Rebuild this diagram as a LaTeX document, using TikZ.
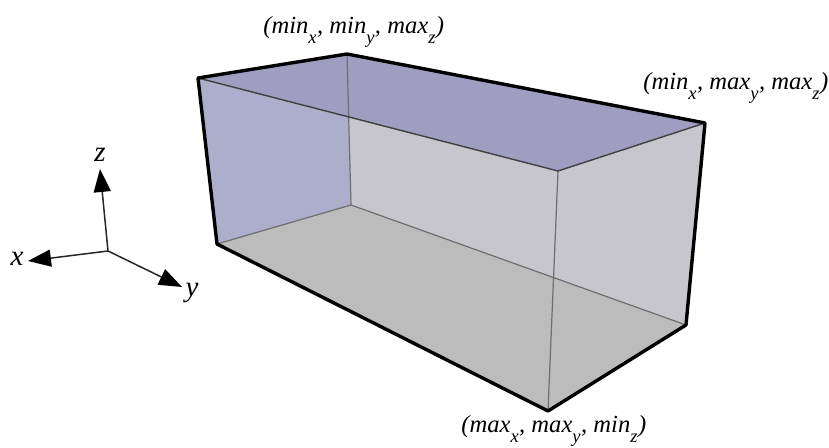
\documentclass[tikz,border=0pt]{standalone}
\usepackage{fontspec}
\usepackage{xcolor}
\setmainfont{Liberation Serif}
\usetikzlibrary{arrows.meta}
\definecolor{wallblue}{RGB}{173,174,204}
\definecolor{topblue}{RGB}{159,158,192}
\definecolor{wallgray}{RGB}{198,198,204}
\definecolor{floorgray}{RGB}{188,188,188}
\definecolor{inneredge}{RGB}{110,110,110}
\newcommand{\idx}[1]{\raisebox{-5.5pt}{\fontsize{10.5}{12}\selectfont #1}\kern0.02em}

\begin{document}
\begin{tikzpicture}[
    x=0.02cm, y=-0.02cm,
    outeredge/.style={draw=black, line width=0.068cm, line join=round, line cap=round},
    topedge/.style={draw=black!75, line width=0.028cm},
    backedge/.style={draw=inneredge, line width=0.024cm},
    axisline/.style={draw=black!85, line width=0.03cm, -{Triangle[length=0.46cm, width=0.34cm, color=black]}},
    cornerlabel/.style={font=\fontsize{14}{16}\selectfont\itshape, inner sep=0pt, anchor=base west},
    axislabel/.style={font=\fontsize{16.5}{18}\selectfont\itshape, inner sep=0pt}
]
\useasboundingbox (0,0) rectangle (829,448);

% box corners
\coordinate (topleft) at (198,78);
\coordinate (topback) at (347,54);
\coordinate (topright) at (705,123);
\coordinate (topfront) at (558,171);
\coordinate (botleft) at (217,244);
\coordinate (botback) at (351,205);
\coordinate (botright) at (686,325);
\coordinate (botfront) at (548,411);

% faces
\fill[wallblue] (topleft) -- (topback) -- (botback) -- (botleft) -- cycle;
\fill[wallgray] (topback) -- (topright) -- (botright) -- (botback) -- cycle;
\fill[wallgray] (topfront) -- (topright) -- (botright) -- (botfront) -- cycle;
\fill[floorgray] (botleft) -- (botback) -- (botright) -- (botfront) -- cycle;
\fill[topblue] (topleft) -- (topback) -- (topright) -- (topfront) -- cycle;

% inner edges
\draw[backedge] (topback) -- (botback);
\draw[backedge] (botback) -- (botleft);
\draw[backedge] (botback) -- (botright);
\draw[backedge] (topfront) -- (botfront);
\draw[topedge] (topleft) -- (topfront);
\draw[topedge] (topfront) -- (topright);

% outline
\draw[outeredge] (topleft) -- (topback) -- (topright) -- (botright) -- (botfront) -- (botleft) -- cycle;

% corner labels
\node[cornerlabel] (labelback) at (263,34) {(min\idx{x}, min\idx{y}, max\idx{z})};
\node[cornerlabel] (labelright) at (643,90) {(min\idx{x}, max\idx{y}, max\idx{z})};
\node[cornerlabel] (labelfront) at (461,433) {(max\idx{x}, max\idx{y}, min\idx{z})};

% axes
\coordinate (origin) at (108,251);
\node[axislabel] (xlabel) at (17,259) {x};
\node[axislabel] (ylabel) at (192,293) {y};
\node[axislabel] (zlabel) at (100,155) {z};
\coordinate (xtip) at (28,261);
\coordinate (ytip) at (182,287);
\coordinate (ztip) at (100,169);
\draw[axisline] (origin) -- (xtip);
\draw[axisline] (origin) -- (ytip);
\draw[axisline] (origin) -- (ztip);
\end{tikzpicture}
\end{document}
